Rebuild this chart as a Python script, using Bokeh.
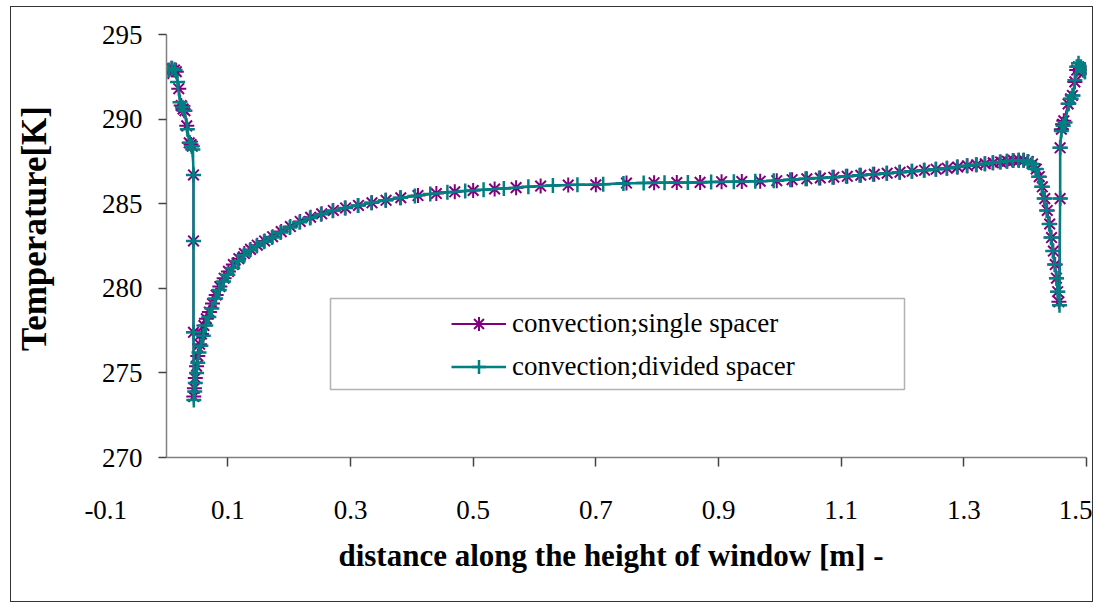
from bokeh.plotting import figure
from bokeh.models import (Range1d, FixedTicker, Legend, LegendItem, BoxAnnotation)
from bokeh.embed import file_html
from bokeh.resources import INLINE

# ---------------- data ----------------
x_single = [0.003, 0.008, 0.013, 0.016, 0.020, 0.024, 0.027, 0.030, 0.033, 0.037, 0.040, 0.042,
            0.044, 0.044, 0.044, 0.0445,
            0.0455, 0.047, 0.049, 0.051, 0.054, 0.057, 0.061, 0.065, 0.070, 0.075, 0.081, 0.087,
            0.094, 0.101, 0.109, 0.118, 0.127, 0.137, 0.148, 0.160, 0.173, 0.187, 0.202, 0.218,
            0.235, 0.253, 0.272, 0.292, 0.313, 0.335, 0.358, 0.382, 0.41, 0.44, 0.47, 0.50,
            0.535, 0.57, 0.61, 0.655, 0.70, 0.75, 0.795, 0.832, 0.87, 0.905, 0.938, 0.968,
            0.995, 1.02, 1.044, 1.066, 1.088, 1.11, 1.132, 1.154, 1.175, 1.196, 1.216, 1.236,
            1.255, 1.273, 1.29, 1.306, 1.321, 1.335, 1.348, 1.36, 1.371, 1.381, 1.39, 1.398,
            1.405, 1.412, 1.418, 1.423, 1.428, 1.432, 1.436, 1.440, 1.443, 1.446, 1.449, 1.451,
            1.453, 1.455,
            1.457, 1.457, 1.459, 1.461, 1.463, 1.470, 1.474, 1.477, 1.481, 1.484, 1.487, 1.490,
            1.494, 1.497]
t_single = [292.8, 293.0, 292.9, 292.8, 291.8, 290.8, 290.6, 290.5, 289.6, 288.6, 288.5, 288.4,
            286.7, 282.8, 277.4, 273.6,
            274.1, 274.7, 275.4, 276.0, 276.7, 277.3, 277.8, 278.2, 278.6, 279.1, 279.6, 280.1,
            280.6, 281.0, 281.4, 281.75, 282.05, 282.3, 282.55, 282.8, 283.05, 283.35, 283.65, 283.95,
            284.2, 284.4, 284.6, 284.75, 284.9, 285.05, 285.2, 285.35, 285.48, 285.6, 285.7, 285.78,
            285.87, 285.95, 286.04, 286.1, 286.12, 286.22, 286.24, 286.25, 286.26, 286.3, 286.31, 286.33,
            286.36, 286.42, 286.47, 286.52, 286.57, 286.62, 286.68, 286.74, 286.8, 286.86, 286.92, 286.98,
            287.04, 287.1, 287.17, 287.24, 287.3, 287.36, 287.42, 287.47, 287.51, 287.55, 287.57, 287.57,
            287.5, 287.35, 287.05, 286.6, 286.0, 285.3, 284.6, 283.8, 283.0, 282.2, 281.4, 280.6,
            279.8, 279.2,
            285.3, 288.3, 289.4, 289.7, 289.9, 290.9, 291.2, 291.4, 292.2, 292.9, 293.1, 293.0,
            292.9, 292.8]

x_divided = [0.004, 0.009, 0.014, 0.018, 0.022, 0.026, 0.029, 0.034, 0.038, 0.041, 0.043,
             0.044, 0.044, 0.044, 0.0445,
             0.046, 0.047, 0.049, 0.051, 0.053, 0.056, 0.060, 0.064, 0.069, 0.074, 0.080, 0.086,
             0.093, 0.100, 0.108, 0.117, 0.126, 0.136, 0.147, 0.159, 0.172, 0.186, 0.201, 0.217,
             0.234, 0.252, 0.271, 0.291, 0.312, 0.334, 0.357, 0.381, 0.405, 0.43, 0.458, 0.487,
             0.517, 0.55, 0.59, 0.63, 0.67, 0.712, 0.745, 0.778, 0.812, 0.85, 0.888, 0.925,
             0.96, 0.99, 1.017, 1.042, 1.064, 1.086, 1.108, 1.13, 1.152, 1.174, 1.195, 1.215,
             1.235, 1.254, 1.272, 1.289, 1.305, 1.32, 1.334, 1.347, 1.359, 1.37, 1.38, 1.389,
             1.397, 1.404, 1.411, 1.417, 1.422, 1.427, 1.431, 1.435, 1.439, 1.442, 1.445, 1.448,
             1.451, 1.453, 1.456,
             1.457, 1.457, 1.459, 1.462, 1.465, 1.471, 1.475, 1.478, 1.481, 1.484, 1.487, 1.491,
             1.495, 1.498]
t_divided = [292.9, 293.0, 292.9, 292.2, 291.0, 290.7, 290.5, 289.4, 288.6, 288.4, 288.2,
             286.7, 282.8, 277.4, 273.4,
             273.9, 274.4, 275.0, 275.6, 276.2, 276.6, 277.2, 277.8, 278.3, 278.8, 279.4, 279.9,
             280.4, 280.8, 281.2, 281.6, 281.95, 282.25, 282.5, 282.75, 283.0, 283.3, 283.6, 283.9,
             284.15, 284.38, 284.58, 284.75, 284.9, 285.05, 285.2, 285.35, 285.45, 285.58, 285.68, 285.75,
             285.82, 285.9, 286.0, 286.08, 286.12, 286.15, 286.2, 286.22, 286.24, 286.26, 286.28, 286.3,
             286.32, 286.35, 286.42, 286.47, 286.52, 286.57, 286.62, 286.68, 286.74, 286.8, 286.86, 286.92,
             286.98, 287.04, 287.1, 287.17, 287.24, 287.3, 287.36, 287.42, 287.47, 287.51, 287.55, 287.57,
             287.57, 287.5, 287.35, 287.05, 286.6, 286.0, 285.3, 284.6, 283.8, 283.0, 282.2, 281.4,
             280.6, 279.8, 279.0,
             285.3, 288.3, 289.3, 289.6, 289.8, 290.9, 291.2, 291.4, 292.3, 293.1, 293.3, 293.1,
             292.9, 292.8]

x_mark_ticks = [0.1, 0.3, 0.5, 0.7, 0.9, 1.1, 1.3, 1.5]
x_tick_labels = ["0.1", "0.3", "0.5", "0.7", "0.9", "1.1", "1.3", "1.5"]
x_first_label = "-0.1"      # printed one step left of the axis origin, as in the original
x_start, x_end = 0.0, 1.5
y_ticks = [270, 275, 280, 285, 290, 295]

x_title = "distance along the height of window [m] -"
y_title = "Temperature[K]"
series_names = ["convection;single spacer", "convection;divided spacer"]
PURPLE = "#800080"
TEAL = "#008080"
FONT = "Liberation Serif"
AXIS_GREY = "#808080"
TICK_GREY = "#444444"
NBSP = "\u00a0"

# ---------------- figure ----------------
p = figure(width=1083, height=596, output_backend="svg", toolbar_location=None,
           x_range=Range1d(x_start, x_end), y_range=Range1d(y_ticks[0], y_ticks[-1]),
           min_border_left=155, min_border_right=8, min_border_top=27, min_border_bottom=146)
p.styles = {"border": "1.5px solid #333", "margin-left": "10px", "margin-top": "6px"}
p.grid.visible = False
p.outline_line_color = None
p.background_fill_color = "white"
p.border_fill_color = "white"

r1l = p.line(x_single, t_single, line_color=PURPLE, line_width=2)
r1m = p.scatter(x_single, t_single, marker="asterisk", size=15, line_color=PURPLE, line_width=2)
r2l = p.line(x_divided, t_divided, line_color=TEAL, line_width=2.5)
r2m = p.scatter(x_divided, t_divided, marker="cross", size=15, line_color=TEAL, line_width=2.5)

# ---- x axis ----
# the origin tick carries the "-0.1" label, shifted left by trailing no-break spaces;
# the visible tick marks are drawn as minor ticks at 0.1 ... 1.5
label_ticks = [x_start] + x_mark_ticks
overrides = {x_start: x_first_label + NBSP * 18}
overrides.update({t: s for t, s in zip(x_mark_ticks, x_tick_labels)})
xa = p.xaxis[0]
xa.ticker = FixedTicker(ticks=label_ticks, minor_ticks=x_mark_ticks)
xa.major_label_overrides = overrides
xa.major_tick_in = 0
xa.major_tick_out = 9
xa.major_tick_line_color = None
xa.minor_tick_in = 0
xa.minor_tick_out = 9
xa.minor_tick_line_color = TICK_GREY
xa.minor_tick_line_width = 1.5
xa.axis_line_color = AXIS_GREY
xa.axis_line_width = 1.5
xa.major_label_standoff = 28
xa.major_label_text_font = FONT
xa.major_label_text_font_size = "27px"
xa.major_label_text_color = "black"
xa.axis_label = x_title + NBSP * 4
xa.axis_label_standoff = 10
xa.axis_label_text_font = FONT
xa.axis_label_text_font_size = "31px"
xa.axis_label_text_font_style = "bold"
xa.axis_label_text_color = "black"

# ---- y axis ----
ya = p.yaxis[0]
ya.ticker = FixedTicker(ticks=y_ticks)
ya.minor_tick_line_color = None
ya.major_tick_in = 0
ya.major_tick_out = 8
ya.major_label_standoff = 16
ya.axis_line_color = AXIS_GREY
ya.axis_line_width = 1.5
ya.major_tick_line_color = TICK_GREY
ya.major_tick_line_width = 1.5
ya.major_label_text_font = FONT
ya.major_label_text_font_size = "27px"
ya.major_label_text_color = "black"
ya.axis_label = NBSP * 4 + y_title
ya.axis_label_standoff = 45
ya.axis_label_text_font = FONT
ya.axis_label_text_font_size = "35px"
ya.axis_label_text_font_style = "bold"
ya.axis_label_text_color = "black"

# legend frame
p.add_layout(BoxAnnotation(left=318, right=892, top=290, bottom=381,
                           left_units="canvas", right_units="canvas",
                           top_units="canvas", bottom_units="canvas",
                           fill_color="white", fill_alpha=1.0,
                           line_color="black", line_width=1.5, level="overlay"))

legend = Legend(items=[LegendItem(label=series_names[0], renderers=[r1l, r1m]),
                       LegendItem(label=series_names[1], renderers=[r2l, r2m])],
                location=(278, 66), glyph_width=55, glyph_height=35, label_height=35,
                label_standoff=6, spacing=8, padding=7, margin=0,
                label_text_font=FONT, label_text_font_size="27px", label_text_color="black",
                border_line_alpha=0, background_fill_alpha=0)
p.add_layout(legend, "center")

open("out.html", "w").write(file_html(p, INLINE))
